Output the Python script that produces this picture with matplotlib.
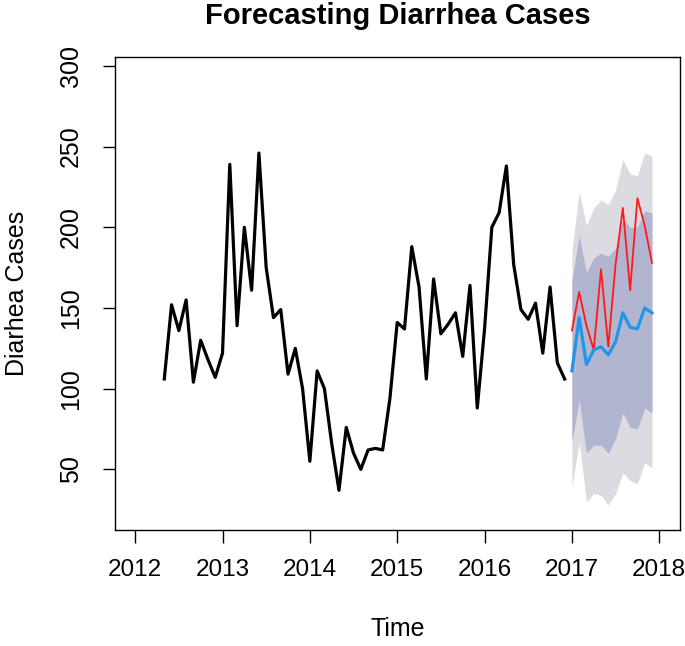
import numpy as np
import matplotlib
matplotlib.use("Agg")
import matplotlib.pyplot as plt

plt.rcParams['font.family'] = ['Liberation Sans', 'DejaVu Sans']

# observed monthly cases, May 2012 - Dec 2016
start_year = 2012 + 4 / 12
cases = [106, 152, 136, 155, 104, 130, 118, 107,
         122, 239, 139, 200, 161, 246, 175, 144, 149, 109, 125, 100,
         55, 111, 100, 66, 37, 76, 60, 50, 62, 63, 62, 94,
         141, 137, 188, 163, 106, 168, 134, 140, 147, 120, 164, 88,
         137, 200, 209, 238, 177, 149, 143, 153, 122, 163, 116, 106]

# forecast for 2017
fc_start = 2017.0
fc_mean = [111, 144, 115, 124, 126, 121, 129, 147, 138, 137, 150, 147]
fc_actual = [136, 160, 139, 124, 174, 126, 177, 212, 161, 218, 201, 178]
lo80 = [67, 93, 60, 65, 65, 60, 69, 85, 76, 75, 88, 85]
hi80 = [167, 195, 172, 181, 184, 182, 187, 205, 200, 200, 210, 209]
lo95 = [39, 67, 30, 35, 34, 28, 35, 48, 43, 41, 54, 51]
hi95 = [185, 222, 201, 212, 217, 214, 223, 242, 233, 232, 246, 244]

x_ticks = [2012, 2013, 2014, 2015, 2016, 2017, 2018]
y_ticks = [50, 100, 150, 200, 250, 300]

t_obs = start_year + np.arange(len(cases)) / 12
t_fc = fc_start + np.arange(len(fc_mean)) / 12

fig = plt.figure(figsize=(6.85, 6.46), dpi=100)
ax = fig.add_axes([0.168, 0.180, 0.825, 0.732])

ax.fill_between(t_fc, lo95, hi95, color='#DBDBE1', linewidth=0)
ax.fill_between(t_fc, lo80, hi80, color='#B1B5D0', linewidth=0)
ax.plot(t_obs, cases, color='black', linewidth=2.3)
ax.plot(t_fc, fc_actual, color='#FF1A1A', linewidth=1.3)
ax.plot(t_fc, fc_mean, color='#2196E8', linewidth=2.3)

ax.set_xlim(2011.77, 2018.24)
ax.set_ylim(12.6, 305.6)
ax.set_xticks(x_ticks)
ax.set_yticks(y_ticks)
ax.set_xticklabels([str(v) for v in x_ticks], fontsize=17.5)
ax.set_yticklabels([str(v) for v in y_ticks], fontsize=18, rotation=90, va='center')
ax.tick_params(axis='x', direction='out', length=9, width=1, pad=12)
ax.tick_params(axis='y', direction='out', length=9, width=1, pad=14)

for s in ax.spines.values():
    s.set_linewidth(1)
    s.set_color('black')

ax.set_xlabel('Time', fontsize=18, labelpad=26)
ax.set_ylabel('Diarhea Cases', fontsize=18, labelpad=22)
ax.set_title('Forecasting Diarrhea Cases', fontsize=21, fontweight='bold', pad=24)

fig.savefig('out.png', dpi=100)
